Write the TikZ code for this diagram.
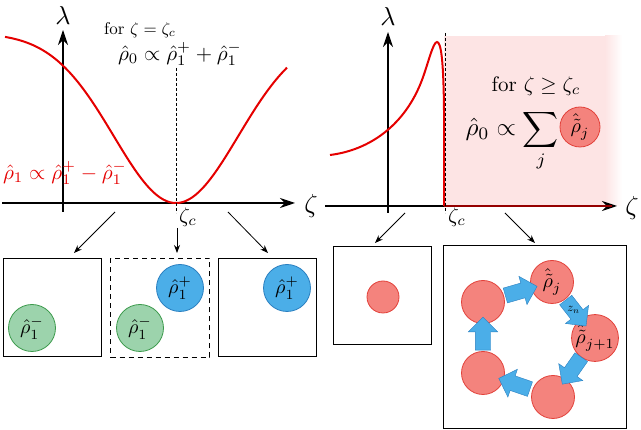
\documentclass[tikz,border=0pt]{standalone}
\usetikzlibrary{arrows.meta,calc,positioning,shapes.arrows}
\definecolor{CurveClr}{rgb}{0.9,0,0}
\definecolor{BallRed}{HTML}{F4837D}
\definecolor{EdgeRed}{HTML}{E2413A}
\definecolor{BallBlue}{HTML}{4BAEE8}
\definecolor{EdgeBlue}{HTML}{2A7FC0}
\definecolor{BallGreen}{HTML}{9CD3AC}
\definecolor{EdgeGreen}{HTML}{3C9A4C}
\definecolor{ShadeClr}{HTML}{FDE4E4}

\tikzset{
  axis/.style={line width=1.1pt,-{Stealth[length=15pt,width=10pt]}},
  curve/.style={line width=2pt,color=CurveClr},
  guide/.style={line width=0.9pt,dash pattern=on 3pt off 2pt},
  pointer/.style={line width=0.8pt,-{Stealth[length=8pt,width=6pt]}},
  panel/.style={draw,line width=1pt,minimum size=98pt,inner sep=0pt},
  ball/.style={circle,minimum size=23.5pt,inner sep=0pt,line width=0.8pt,scale=2},
  greenball/.style={ball,fill=BallGreen,draw=EdgeGreen},
  blueball/.style={ball,fill=BallBlue,draw=EdgeBlue},
  redball/.style={ball,fill=BallRed,draw=EdgeRed,minimum size=21.5pt},
  flow/.style={single arrow,fill=BallBlue,draw=EdgeBlue,line width=0.4pt,minimum height=33pt,
    inner xsep=0pt,inner ysep=7.5pt,single arrow head extend=7pt},
  axislbl/.style={scale=2.6},
  bigtxt/.style={scale=2.1},
  midtxt/.style={scale=1.7},
  critlbl/.style={scale=2.1},
}

\begin{document}
\begin{tikzpicture}[x=1pt,y=-1pt]
\useasboundingbox (0,0) rectangle (641,430);

% left plot
\draw[axis] (2,203) -- (295,203);
\draw[axis] (63,212) -- (63,30);
\draw[curve] plot[domain=5:287,samples=90] (\x,{203-170*(1-exp(-((\x-176)/88)*((\x-176)/88)))});
\draw[guide] (176,68) -- (176,213);
\node[axislbl] (lamL) at (63,15) {$\lambda$};
\node[axislbl] (zetaL) at (311,206) {$\zeta$};
\node[critlbl] (zcL) at (188,217) {$\zeta_c$};
\node[midtxt] (forL) at (140,30) {for $\zeta=\zeta_c$};
\node[bigtxt] (symL) at (180,54) {$\hat\rho_0\propto\hat\rho_1^{+}+\hat\rho_1^{-}$};
\node[bigtxt,text=CurveClr] (antiL) at (65,173) {$\hat\rho_1\propto\hat\rho_1^{+}-\hat\rho_1^{-}$};

\node[panel] (boxA) at (52,308) {};
\node[panel,draw=none] (boxB) at (160,308) {};
\draw[line width=1pt,dash pattern=on 5pt off 4pt] (boxB.north west) rectangle (boxB.south east);
\node[panel] (boxC) at (267,308) {};
\node[greenball] (gA) at (32,328) {$\hat\rho_1^{-}$};
\node[greenball] (gB) at (140,328) {$\hat\rho_1^{-}$};
\node[blueball] (bB) at (180,288) {$\hat\rho_1^{+}$};
\node[blueball] (bC) at (287,288) {$\hat\rho_1^{+}$};

\coordinate (s1) at (115,212); \coordinate (e1) at (74,253);
\coordinate (s2) at (177,228); \coordinate (e2) at (177,253);
\coordinate (s3) at (228,212); \coordinate (e3) at (268,253);
\draw[pointer] (s1) -- (e1);
\draw[pointer] (s2) -- (e2);
\draw[pointer] (s3) -- (e3);

% right plot
\fill[ShadeClr] (444,36) rectangle (605,206);
\shade[left color=ShadeClr,right color=white] (605,36) rectangle (622,206);
\draw[axis] (325,206) -- (617,206);
\draw[axis] (388,213) -- (388,32);
\draw[curve] (330,155) .. controls (370,150) and (405,125) .. (422,80)
  .. controls (428,64) and (433,42) .. (437,42)
  .. controls (441,42) and (443.5,60) .. (444,110) -- (444,206);
\draw[curve,color=CurveClr!65!black] (444,206) -- (612,206);
\draw[guide] (445,33) -- (445,213);
\node[axislbl] (lamR) at (388,16) {$\lambda$};
\node[axislbl] (zetaR) at (632,208) {$\zeta$};
\node[critlbl] (zcR) at (457,217) {$\zeta_c$};
\node[bigtxt] (forR) at (536,86) {for $\zeta\geq\zeta_c$};
\node[scale=2.5,anchor=base west,inner sep=0pt] (sumR) at (465,136) {$\hat\rho_0\propto\displaystyle\sum_j$};
\node[redball,minimum size=20pt] (rhoR) at (580,127) {$\hat{\tilde\rho}_j$};

\node[panel] (boxD) at (382,296) {};
\node[panel,minimum width=183pt,minimum height=183pt] (boxE) at (535,337) {};
\node[redball,minimum size=16pt] (dot) at (383,297) {};

\node[redball] (r1) at (483,302) {};
\node[redball] (r2) at (552,282) {$\hat{\tilde\rho}_j$};
\node[redball] (r3) at (595,338) {$\hat{\tilde\rho}_{j+1}$};
\node[redball] (r4) at (553,397) {};
\node[redball] (r5) at (483,373) {};
\node[flow,rotate=16] (f1) at ($(r1)!0.5!(r2)$) {};
\node[flow,rotate=-52] (f2) at ($(r2)!0.5!(r3)$) {};
\node[flow,rotate=-125] (f3) at ($(r3)!0.5!(r4)$) {};
\node[flow,rotate=161] (f4) at ($(r4)!0.5!(r5)$) {};
\node[flow,rotate=90] (f5) at ($(r5)!0.5!(r1)$) {};
\node[scale=1.2] (zn) at (f2) {$z_n$};

\coordinate (s4) at (405,213); \coordinate (e4) at (375,243);
\coordinate (s5) at (505,213); \coordinate (e5) at (535,243);
\draw[pointer] (s4) -- (e4);
\draw[pointer] (s5) -- (e5);
\end{tikzpicture}
\end{document}
